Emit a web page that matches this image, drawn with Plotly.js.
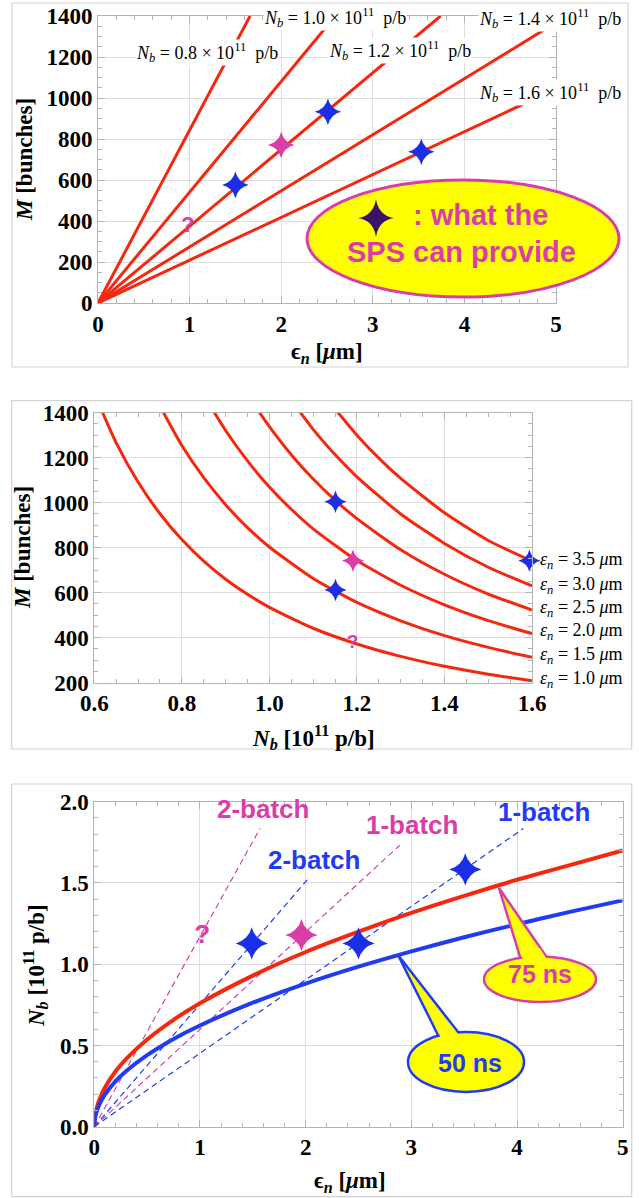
<!DOCTYPE html>
<html><head><meta charset="utf-8">
<script src="https://cdn.plot.ly/plotly-3.0.1.min.js"></script>
<style>html,body{margin:0;padding:0;background:#fff}#chart{width:639px;height:1198px}</style>
</head><body><div id="chart"></div>
<script>
// ---------- DATA ----------
// Panel 1: M vs eps_n, straight lines for fixed N_b
const p1NbLabels = ['0.8', '1.0', '1.2', '1.4', '1.6'];
const p1LineEndEps = [1.66, 2.59, 3.74, 5.0, 5.0];
const p1LineEndM = [1400, 1400, 1400, 1368, 1045];
const p1BlueStarEps = [1.50, 2.51, 3.53];
const p1BlueStarM = [576, 933, 738];
const p1MagStarEps = [2.0];
const p1MagStarM = [771];
const p1QEps = [0.98];
const p1QM = [372];

// Panel 2: M vs N_b for fixed eps_n
const p2EpsLabels = ['3.5', '3.0', '2.5', '2.0', '1.5', '1.0'];
const eps10Nb = [0.6, 0.65, 0.7, 0.75, 0.8, 0.85, 0.9, 0.95, 1.0, 1.1, 1.2, 1.3, 1.4, 1.5, 1.6];
const eps10M = [1486, 1266, 1092, 951, 836, 740, 660, 593, 535, 442, 372, 317, 273, 238, 209];
const eps15Nb = [0.74, 0.8, 0.85, 0.9, 0.95, 1.0, 1.1, 1.2, 1.3, 1.4, 1.5, 1.6];
const eps15M = [1466, 1254, 1111, 991, 889, 803, 663, 557, 475, 409, 357, 313];
const eps20Nb = [0.86, 0.9, 0.95, 1.0, 1.05, 1.1, 1.2, 1.3, 1.4, 1.5, 1.6];
const eps20M = [1447, 1321, 1186, 1070, 971, 884, 743, 633, 546, 476, 418];
const eps25Nb = [0.96, 1.0, 1.05, 1.1, 1.15, 1.2, 1.3, 1.4, 1.5, 1.6];
const eps25M = [1451, 1338, 1213, 1105, 1011, 929, 791, 682, 594, 523];
const eps30Nb = [1.05, 1.1, 1.15, 1.2, 1.3, 1.4, 1.5, 1.6];
const eps30M = [1456, 1326, 1214, 1115, 950, 819, 713, 630];
const eps35Nb = [1.14, 1.2, 1.25, 1.3, 1.4, 1.5, 1.6];
const eps35M = [1441, 1300, 1198, 1108, 955, 832, 740];
const p2BlueStarNb = [1.151, 1.151, 1.594];
const p2BlueStarM = [1004, 612, 742];
const p2MagStarNb = [1.191];
const p2MagStarM = [742];
const p2QNb = [1.19];
const p2QM = [375];

// Panel 3: N_b vs eps_n
const p3Eps = [0, 0.005, 0.02, 0.05, 0.1, 0.2, 0.3, 0.5, 0.75, 1, 1.5, 2, 2.5, 3, 3.5, 4, 4.5, 5];
const ns75Nb = [0, 0.054, 0.107, 0.17, 0.24, 0.34, 0.416, 0.537, 0.658, 0.76, 0.93, 1.075, 1.20, 1.316, 1.42, 1.52, 1.61, 1.70];
const ns50Nb = [0, 0.044, 0.088, 0.139, 0.197, 0.279, 0.341, 0.44, 0.54, 0.623, 0.763, 0.881, 0.985, 1.079, 1.166, 1.246, 1.322, 1.393];
const batchNames = ['2-batch', '2-batch', '1-batch', '1-batch'];
const batchEndEps = [1.568, 2.04, 2.89, 4.06];
const batchEndNb = [1.835, 1.538, 1.732, 1.835];
const p3BlueStarEps = [1.49, 2.50, 3.51];
const p3BlueStarNb = [1.128, 1.128, 1.583];
const p3MagStarEps = [1.96];
const p3MagStarNb = [1.179];
const p3QEps = [1.02];
const p3QNb = [1.168];
const calloutLabels = ['75 ns', '50 ns'];

// ---------- STYLE ----------
const W = 639, H = 1198;
const px = x => x / W;
const py = y => 1 - y / H;
const RED = '#f5280f', BLUE = '#1f3cf2', MAG = '#d93ea8', STARBLUE = '#1a2fe6', YEL = '#ffff00';
const SERIF = 'Liberation Serif, Times New Roman, serif';
const SANS = 'Liberation Sans, Arial, sans-serif';

const traces = [];
function line(x, y, xa, ya, color, width, dash, shape) {
  traces.push({x, y, xaxis: xa, yaxis: ya, mode: 'lines', type: 'scatter', hoverinfo: 'skip',
    line: {color, width, dash: dash || 'solid', shape: shape || 'linear', smoothing: 0.6}, showlegend: false});
}
function stars(x, y, xa, ya, color, size) {
  traces.push({x, y, xaxis: xa, yaxis: ya, mode: 'markers', type: 'scatter', cliponaxis: false,
    marker: {symbol: 'star-diamond', size, color, line: {width: 0}}, showlegend: false});
}
function qmark(x, y, xa, ya, size) {
  traces.push({x, y, xaxis: xa, yaxis: ya, mode: 'text', type: 'scatter', text: x.map(() => '?'),
    textposition: 'middle center', cliponaxis: false,
    textfont: {family: SANS, size, color: MAG, weight: 'bold'}, showlegend: false});
}

// Panel 1
p1NbLabels.forEach((lab, i) => line([0, p1LineEndEps[i]], [0, p1LineEndM[i]], 'x', 'y', RED, 3));
stars(p1BlueStarEps, p1BlueStarM, 'x', 'y', STARBLUE, 19);
stars(p1MagStarEps, p1MagStarM, 'x', 'y', MAG, 19);
qmark(p1QEps, p1QM, 'x', 'y', 22);

// Panel 2
[[eps10Nb, eps10M], [eps15Nb, eps15M], [eps20Nb, eps20M], [eps25Nb, eps25M], [eps30Nb, eps30M], [eps35Nb, eps35M]]
  .forEach(c => line(c[0], c[1], 'x2', 'y2', RED, 3, 'solid', 'spline'));
stars(p2BlueStarNb, p2BlueStarM, 'x2', 'y2', STARBLUE, 16);
stars(p2MagStarNb, p2MagStarM, 'x2', 'y2', MAG, 16);
qmark(p2QNb, p2QM, 'x2', 'y2', 19);

// Panel 3
const batchColors = [MAG, BLUE, MAG, BLUE];
batchNames.forEach((n, i) => line([0, batchEndEps[i]], [0, batchEndNb[i]], 'x3', 'y3', batchColors[i], 1.2, '6px,4px'));
line(p3Eps, ns75Nb, 'x3', 'y3', RED, 4, 'solid', 'spline');
line(p3Eps, ns50Nb, 'x3', 'y3', BLUE, 4, 'solid', 'spline');
stars(p3BlueStarEps, p3BlueStarNb, 'x3', 'y3', STARBLUE, 23);
stars(p3MagStarEps, p3MagStarNb, 'x3', 'y3', MAG, 23);
qmark(p3QEps, p3QNb, 'x3', 'y3', 26);

// ---------- AXES ----------
const FRAME = '#b4b4b4', GRID = '#dedede';
function axis(domain, range, dtick, minor, anchor, fmt) {
  return {domain, range, autorange: false, dtick, tick0: range[0], anchor,
    showgrid: true, gridcolor: GRID, gridwidth: 1, zeroline: false,
    showline: true, linecolor: FRAME, linewidth: 1, mirror: 'allticks',
    ticks: 'inside', ticklen: 7, tickcolor: FRAME, tickwidth: 1,
    minor: {ticks: 'inside', ticklen: 4, dtick: minor, tickcolor: FRAME, showgrid: false},
    tickformat: fmt || '', fixedrange: true,
    tickfont: {family: SERIF, size: 23, color: '#000', weight: 'bold'}};
}

const layout = {
  width: W, height: H, margin: {l: 0, r: 0, t: 0, b: 0},
  paper_bgcolor: '#fff', plot_bgcolor: '#fff', showlegend: false,
  xaxis: axis([px(98), px(556)], [0, 5], 1, 0.2, 'y'),
  yaxis: axis([py(303), py(16)], [0, 1400], 200, 50, 'x'),
  xaxis2: axis([px(94.3), px(532)], [0.6, 1.6], 0.2, 0.05, 'y2', '.1f'),
  yaxis2: axis([py(682.7), py(412.7)], [200, 1400], 200, 50, 'x2'),
  xaxis3: axis([px(94.3), px(622.7)], [0, 5], 1, 0.2, 'y3'),
  yaxis3: axis([py(1126.7), py(801.7)], [0, 2], 0.5, 0.1, 'x3', '.1f'),
  shapes: [], annotations: []
};

// panel frames
[[12, 3, 628, 367], [11.7, 400.7, 631.7, 749], [11.7, 784, 631.7, 1196.7]].forEach(b => {
  layout.shapes.push({type: 'rect', xref: 'paper', yref: 'paper', x0: px(b[0]), x1: px(b[2]), y0: py(b[3]), y1: py(b[1]),
    line: {color: '#d4d4d4', width: 1.2}, fillcolor: 'rgba(0,0,0,0)', layer: 'above'});
});

// panel 1 yellow ellipse
layout.shapes.push({type: 'circle', xref: 'paper', yref: 'paper', x0: px(307), x1: px(619), y0: py(297), y1: py(180),
  fillcolor: YEL, line: {color: MAG, width: 3}, layer: 'above'});
// four-pointed star symbol inside the ellipse
(function () {
  const cx = 376, cy = 218, a = 18, b = 19, c = 2.5;
  const P = (x, y) => px(x) + ',' + py(y);
  const path = 'M ' + P(cx, cy - b) + ' Q ' + P(cx + c, cy - c) + ' ' + P(cx + a, cy) +
    ' Q ' + P(cx + c, cy + c) + ' ' + P(cx, cy + b) + ' Q ' + P(cx - c, cy + c) + ' ' + P(cx - a, cy) +
    ' Q ' + P(cx - c, cy - c) + ' ' + P(cx, cy - b) + ' Z';
  layout.shapes.push({type: 'path', xref: 'paper', yref: 'paper', path, fillcolor: '#3a1466', line: {width: 0}, layer: 'above'});
})();

function poly(pts) {
  return 'M ' + pts.map(p => px(p[0]) + ' ' + py(p[1])).join(' L ') + ' Z';
}
// 75 ns callout
layout.shapes.push({type: 'path', xref: 'paper', yref: 'paper', path: poly([[499, 888], [523.4, 968], [554.2, 968]]),
  fillcolor: YEL, line: {color: MAG, width: 2.5}, layer: 'above'});
layout.shapes.push({type: 'circle', xref: 'paper', yref: 'paper', x0: px(484), x1: px(596), y0: py(1002), y1: py(956.5),
  fillcolor: YEL, line: {color: MAG, width: 2.5}, layer: 'above'});
layout.shapes.push({type: 'path', xref: 'paper', yref: 'paper', path: poly([[519.4, 948], [539.6, 948], [551.3, 966], [524.5, 966]]),
  fillcolor: YEL, line: {width: 0}, layer: 'above'});
// 50 ns callout
layout.shapes.push({type: 'path', xref: 'paper', yref: 'paper', path: poly([[398, 955], [445.5, 1050], [472, 1050]]),
  fillcolor: YEL, line: {color: BLUE, width: 2.5}, layer: 'above'});
layout.shapes.push({type: 'circle', xref: 'paper', yref: 'paper', x0: px(408), x1: px(524), y0: py(1092), y1: py(1032),
  fillcolor: YEL, line: {color: BLUE, width: 2.5}, layer: 'above'});
layout.shapes.push({type: 'path', xref: 'paper', yref: 'paper', path: poly([[434.5, 1025], [451, 1025], [466.5, 1045], [444.5, 1045]]),
  fillcolor: YEL, line: {width: 0}, layer: 'above'});

function ann(x, y, text, font, extra) {
  layout.annotations.push(Object.assign({xref: 'paper', yref: 'paper', x: px(x), y: py(y), text, showarrow: false,
    xanchor: 'center', yanchor: 'middle', font}, extra || {}));
}
const labFont = {family: SERIF, size: 18, color: '#000'};
const p1LabPos = [[207, 52], [335, 17], [400, 50], [550, 18], [550, 92]];
p1NbLabels.forEach((lab, i) => ann(p1LabPos[i][0], p1LabPos[i][1],
  '<i>N</i><sub><i>b</i></sub> = ' + lab + ' × 10<sup>11</sup>  p/b', labFont, {bgcolor: '#fff', borderpad: 0}));

ann(480, 215, ': what the', {family: SANS, size: 29, color: MAG, weight: 'bold'});
ann(461, 252, 'SPS can provide', {family: SANS, size: 29, color: MAG, weight: 'bold'});

const p2LabY = [560.7, 585, 608, 631.7, 655, 679];
p2EpsLabels.forEach((lab, i) => ann(538, p2LabY[i], '<i>ε</i><sub><i>n</i></sub> = ' + lab + ' <i>μ</i>m',
  {family: SERIF, size: 18, color: '#000'}, {xanchor: 'left'}));

const batchPos = [[263, 809], [314, 860], [412, 825], [544, 812]];
batchNames.forEach((n, i) => ann(batchPos[i][0], batchPos[i][1], n, {family: SANS, size: 26, color: batchColors[i], weight: 'bold'}));
ann(540, 974, calloutLabels[0], {family: SANS, size: 25, color: MAG, weight: 'bold'});
ann(470, 1063, calloutLabels[1], {family: SANS, size: 25, color: BLUE, weight: 'bold'});

const titleFont = {family: SERIF, size: 23, color: '#000', weight: 'bold'};
const epsTitle = 'ϵ<sub><i>n</i></sub> [<i>μ</i>m]';
const nbTitle = '<i>N<sub>b</sub></i> [10<sup>11</sup> p/b]';
ann(327, 353, epsTitle, titleFont);
ann(24, 160, '<i>M</i> [bunches]', titleFont, {textangle: -90});
ann(313, 737, nbTitle, titleFont);
ann(23, 548, '<i>M</i> [bunches]', titleFont, {textangle: -90});
ann(350, 1182, epsTitle, titleFont);
ann(35, 966, nbTitle, titleFont, {textangle: -90});

Plotly.newPlot('chart', traces, layout, {displayModeBar: false, staticPlot: true});
</script></body></html>
